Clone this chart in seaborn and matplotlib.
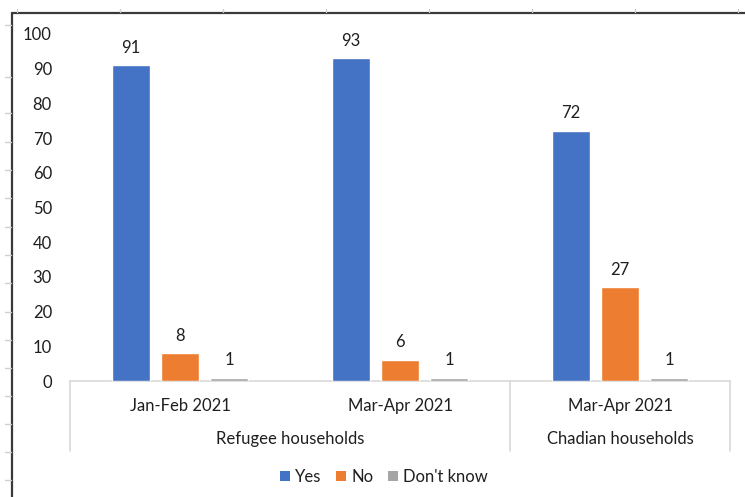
import matplotlib
matplotlib.use("Agg")
import matplotlib.pyplot as plt
import matplotlib.transforms as mtransforms
from matplotlib.lines import Line2D
from matplotlib.patches import Patch
import seaborn as sns
import pandas as pd

# Survey periods (inner axis level) and population groups (outer level)
periods = ["Jan-Feb 2021", "Mar-Apr 2021", "Mar-Apr 2021"]
groups = ["Refugee households", "Refugee households", "Chadian households"]
responses = ["Yes", "No", "Don't know"]

yes_pct = [91, 93, 72]
no_pct = [8, 6, 27]
dont_know_pct = [1, 1, 1]

colors = ["#4472C4", "#ED7D31", "#A5A5A5"]
text_color = "#1F1F1F"
rule_color = "#D9D9D9"
fs = 12

keys = [f"{g} | {p} | {i}" for i, (g, p) in enumerate(zip(groups, periods))]
rows = []
for k, y, n, d in zip(keys, yes_pct, no_pct, dont_know_pct):
    rows += [(k, "Yes", y), (k, "No", n), (k, "Don't know", d)]
df = pd.DataFrame(rows, columns=["slot", "response", "pct"])

sns.set_theme(style="white")
plt.rcParams["font.family"] = ["Lato", "DejaVu Sans"]

W, H = 745, 497
fig = plt.figure(figsize=(W / 100, H / 100), dpi=100)
fig.patch.set_facecolor("white")

x0, x1 = 70, 730
y0, y100 = 381, 34
ax = fig.add_axes([x0 / W, (H - y0) / H, (x1 - x0) / W, (y0 - y100) / H])

sns.barplot(data=df, x="slot", y="pct", hue="response", order=keys,
            hue_order=responses, palette=colors, width=0.67, gap=0.22,
            saturation=1, ax=ax, legend=False, errorbar=None, zorder=3)

ax.set_xlim(-0.5, 2.5)
ax.set_ylim(0, 100)
ax.set_yticks(range(0, 101, 10))
ax.set_xticks([])
ax.set_xlabel("")
ax.set_ylabel("")
ax.tick_params(axis="y", length=0, pad=13, labelsize=fs, labelcolor=text_color)
for s in ["top", "right", "left"]:
    ax.spines[s].set_visible(False)
ax.spines["bottom"].set_color(rule_color)
ax.spines["bottom"].set_linewidth(1.2)
ax.spines["bottom"].set_zorder(1)

# Value labels above each bar
for cont in ax.containers:
    ax.bar_label(cont, fmt="%d", padding=7, fontsize=fs, color=text_color)

# Two-level category axis
trans = mtransforms.blended_transform_factory(ax.transData, ax.transAxes)
span = y0 - y100
lvl1_y = -(406 - y0) / span
lvl2_y = -(439 - y0) / span
rule_bottom = -(451 - y0) / span
for i, p in enumerate(periods):
    ax.text(i, lvl1_y, p, transform=trans, ha="center", va="center",
            fontsize=fs, color=text_color)
ax.text(0.5, lvl2_y, "Refugee households", transform=trans, ha="center",
        va="center", fontsize=fs, color=text_color)
ax.text(2.0, lvl2_y, "Chadian households", transform=trans, ha="center",
        va="center", fontsize=fs, color=text_color)
for xs in [-0.5, 1.5, 2.5]:
    ax.plot([xs, xs], [0, rule_bottom], transform=trans, color=rule_color,
            lw=1.2, clip_on=False)

# Legend
handles = [Patch(facecolor=c, edgecolor="none") for c in colors]
fig.legend(handles, responses, loc="center", bbox_to_anchor=(384 / W, 1 - 477 / H),
           ncol=3, frameon=False, fontsize=fs, handlelength=0.6,
           handleheight=0.6, handletextpad=0.3, columnspacing=0.9,
           labelcolor=text_color)

# Sheet frame with cell-grid ticks along the edges
def fx(px):
    return px / W

def fy(py):
    return 1 - py / H

frame_color = "#3A3A3A"
fig.add_artist(Line2D([fx(12), fx(12)], [fy(13), fy(H)], color=frame_color, lw=1.6))
fig.add_artist(Line2D([fx(12), fx(W)], [fy(13), fy(13)], color=frame_color, lw=1.6))
for py in [25, 77, 113, 142, 170, 198, 227, 255, 283, 312, 340, 368, 396, 424, 452, 480]:
    fig.add_artist(Line2D([fx(5), fx(11)], [fy(py), fy(py)], color="#CFCFCF", lw=1))
for px in [17, 120, 223, 326, 429, 532, 635, 738]:
    fig.add_artist(Line2D([fx(px), fx(px)], [fy(9), fy(12)], color="#CFCFCF", lw=1))

fig.savefig("out.png", dpi=100, facecolor="white")
